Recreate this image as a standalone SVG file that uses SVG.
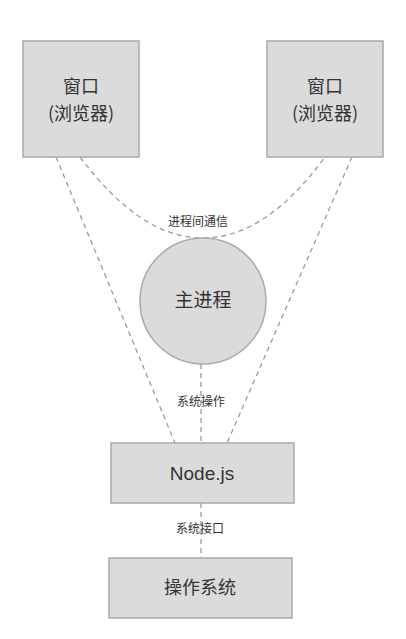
<svg xmlns="http://www.w3.org/2000/svg" width="406" height="639" viewBox="0 0 406 639">
<style>
.box{fill:#dcdbdc;stroke:#a9a9a9;stroke-width:1.5}
.dash{fill:none;stroke:#9a9a9a;stroke-width:1.3;stroke-dasharray:5,4}
.t{font-family:"Noto Sans CJK SC","Liberation Sans",sans-serif;fill:#333;text-anchor:middle}
.big{font-size:18px}
.small{font-size:12px}
</style>
<rect width="406" height="639" fill="#fff"/>
<g id="connectors">
<path class="dash" d="M80,157 C120,210 160,238 203,238 C246,238 286,210 325,157"/>
<line class="dash" x1="56" y1="157" x2="175" y2="443"/>
<line class="dash" x1="352" y1="157" x2="227" y2="443"/>
<line class="dash" x1="201" y1="364" x2="201" y2="443"/>
<line class="dash" x1="201" y1="503" x2="201" y2="558"/>
<text class="t small" x="198" y="226">进程间通信</text>
<text class="t small" x="201" y="406">系统操作</text>
<text class="t small" x="200" y="533">系统接口</text>
</g>
<g id="window-left">
<rect class="box" x="23" y="41" width="116" height="116"/>
<text class="t big" x="81" y="93">窗口</text>
<text class="t big" x="81" y="120">(浏览器)</text>
</g>
<g id="window-right">
<rect class="box" x="267" y="41" width="116" height="116"/>
<text class="t big" x="325" y="93">窗口</text>
<text class="t big" x="325" y="120">(浏览器)</text>
</g>
<g id="main-process">
<circle class="box" cx="203" cy="301" r="63"/>
<text class="t" style="font-size:19px" x="203" y="307">主进程</text>
</g>
<g id="nodejs">
<rect class="box" x="111" y="443" width="183" height="60"/>
<text class="t" style="font-family:'Liberation Sans','Noto Sans',sans-serif;font-size:19px" x="202" y="480">Node.js</text>
</g>
<g id="os">
<rect class="box" x="109" y="558" width="183" height="60"/>
<text class="t big" x="200" y="594">操作系统</text>
</g>
</svg>
